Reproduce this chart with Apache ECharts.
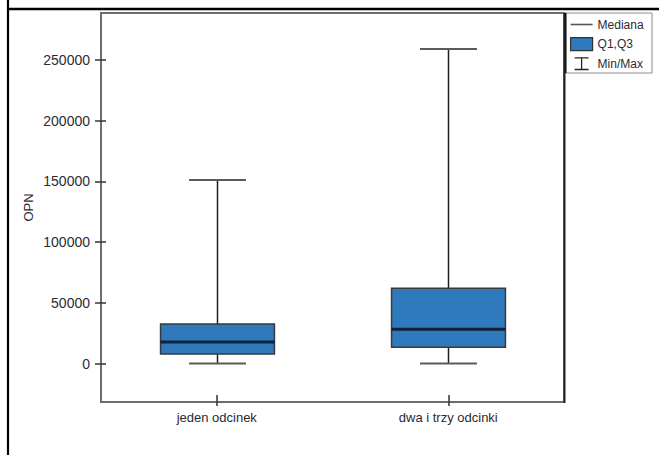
<!DOCTYPE html>
<html>
<head>
<meta charset="utf-8">
<script src="https://cdn.jsdelivr.net/npm/echarts@6/dist/echarts.min.js"></script>
<style>
html,body{margin:0;padding:0;background:#fff;}
#chart{width:659px;height:455px;}
</style>
</head>
<body>
<div id="chart"></div>
<script>
const categories = ['jeden odcinek', 'dwa i trzy odcinki'];
const minValues = [0, 0];
const q1Values = [7800, 13300];
const medianValues = [17700, 28200];
const q3Values = [32500, 61900];
const maxValues = [151200, 259100];
const yTicks = [0, 50000, 100000, 150000, 200000, 250000];
const yRange = [-31700, 288700];
const axisName = 'OPN';
const legendNames = ['Mediana', 'Q1,Q3', 'Min/Max'];

const rows = categories.map((c, i) => [i, minValues[i], q1Values[i], medianValues[i], q3Values[i], maxValues[i]]);

const FONT = 'Liberation Sans';
const TXT = '#2b2b33';
const BOX = '#2e7abc';

function pos(api, v) { return api.coord([api.value(0), v]); }

const chart = echarts.init(document.getElementById('chart'), null, {renderer: 'svg'});
chart.setOption({
  animation: false,
  backgroundColor: '#fff',
  grid: {left: 101, top: 13, right: 95, bottom: 53, show: true, borderColor: '#6d6d6d', borderWidth: 2, backgroundColor: 'transparent'},
  xAxis: [{
    type: 'category', data: categories, boundaryGap: true,
    axisLine: {show: true, onZero: false, lineStyle: {color: '#6d6d6d', width: 2}},
    axisTick: {show: true, alignWithLabel: true, inside: false, length: 4, lineStyle: {color: '#333', width: 1.5}},
    axisLabel: {margin: 9, color: TXT, fontFamily: FONT, fontSize: 13},
    splitLine: {show: false}
  }, {
    type: 'category', data: categories, boundaryGap: true, position: 'bottom',
    axisLine: {show: false, onZero: false},
    axisTick: {show: true, alignWithLabel: true, inside: true, length: 7, lineStyle: {color: '#333', width: 1.5}},
    axisLabel: {show: false}, splitLine: {show: false}
  }],
  yAxis: [{
    type: 'value', min: yRange[0], max: yRange[1],
    name: axisName, nameLocation: 'middle', nameGap: 66, nameMoveOverlap: false,
    nameTextStyle: {color: TXT, fontFamily: FONT, fontSize: 13},
    axisLine: {show: true, onZero: false, lineStyle: {color: '#6d6d6d', width: 2}},
    axisTick: {show: true, inside: false, length: 6, customValues: yTicks, lineStyle: {color: '#333', width: 1.5}},
    axisLabel: {margin: 11, color: TXT, fontFamily: FONT, fontSize: 14, customValues: yTicks, formatter: v => String(v)},
    splitLine: {show: false}
  }, {
    type: 'value', min: yRange[0], max: yRange[1], position: 'left',
    axisLine: {show: false, onZero: false},
    axisTick: {show: true, inside: true, length: 5, customValues: yTicks, lineStyle: {color: '#333', width: 1.5}},
    axisLabel: {show: false, customValues: yTicks},
    splitLine: {show: false}
  }],
  legend: {
    orient: 'vertical', left: 570, top: 18, z: 20, padding: 0,
    itemWidth: 22, itemHeight: 13, itemGap: 6, symbolKeepAspect: true,
    textStyle: {color: TXT, fontFamily: FONT, fontSize: 12, lineHeight: 13},
    selectedMode: false,
    data: [
      {name: legendNames[0], icon: 'path://M0,0 L22,0 L22,1.6 L0,1.6 Z', itemStyle: {color: '#555', borderWidth: 0}},
      {name: legendNames[1], icon: 'rect', itemStyle: {color: BOX, borderColor: '#333', borderWidth: 1.2}},
      {name: legendNames[2], icon: 'path://M0,0 L15,0 L15,1.5 L8.2,1.5 L8.2,12.5 L15,12.5 L15,14 L0,14 L0,12.5 L6.8,12.5 L6.8,1.5 L0,1.5 Z', itemStyle: {color: '#222', borderWidth: 0}}
    ]
  },
  graphic: [
    {type: 'rect', z: 5, shape: {x: 565, y: 13, width: 87, height: 60}, style: {fill: '#fff', stroke: '#8c8c8c', lineWidth: 1}},
    {type: 'line', z: 6, shape: {x1: 565.5, y1: 13, x2: 565.5, y2: 73}, style: {stroke: '#000', lineWidth: 2}},
    {type: 'line', z: 6, shape: {x1: 564.5, y1: 13, x2: 564.5, y2: 403}, style: {stroke: '#222', lineWidth: 2}},
    {type: 'line', z: 6, shape: {x1: 7, y1: 9, x2: 659, y2: 9}, style: {stroke: '#000', lineWidth: 2.5}},
    {type: 'line', z: 6, shape: {x1: 8, y1: 0, x2: 8, y2: 455}, style: {stroke: '#000', lineWidth: 2.2}}
  ],
  series: [
    {
      name: legendNames[2], type: 'custom', data: rows, z: 2,
      encode: {x: 0, y: [1, 2, 3, 4, 5]},
      itemStyle: {color: '#222'},
      renderItem: function (params, api) {
        const band = api.size([1, 0])[0];
        const cw = band * 0.123;
        const pMin = pos(api, api.value(1)), pQ1 = pos(api, api.value(2));
        const pQ3 = pos(api, api.value(4)), pMax = pos(api, api.value(5));
        const x = Math.round(pMin[0]) + 0.5;
        const ws = {stroke: '#1e1e1e', lineWidth: 1.5};
        const cs = {stroke: '#5a5a5a', lineWidth: 2};
        return {type: 'group', children: [
          {type: 'line', shape: {x1: x, y1: pMin[1], x2: x, y2: pQ1[1]}, style: ws},
          {type: 'line', shape: {x1: x, y1: pQ3[1], x2: x, y2: pMax[1]}, style: ws},
          {type: 'line', shape: {x1: x - cw, y1: pMin[1], x2: x + cw, y2: pMin[1]}, style: cs},
          {type: 'line', shape: {x1: x - cw, y1: pMax[1], x2: x + cw, y2: pMax[1]}, style: cs}
        ]};
      }
    },
    {
      name: legendNames[1], type: 'custom', data: rows, z: 3,
      encode: {x: 0, y: [1, 2, 3, 4, 5]},
      itemStyle: {color: BOX},
      renderItem: function (params, api) {
        const band = api.size([1, 0])[0];
        const hw = band * 0.246;
        const pQ1 = pos(api, api.value(2)), pQ3 = pos(api, api.value(4));
        const x = Math.round(pQ1[0]) + 0.5;
        return {type: 'rect', shape: {x: x - hw, y: pQ3[1], width: hw * 2, height: pQ1[1] - pQ3[1]},
          style: {fill: BOX, stroke: '#3a3a3a', lineWidth: 1.5}};
      }
    },
    {
      name: legendNames[0], type: 'custom', data: rows, z: 4,
      encode: {x: 0, y: [1, 2, 3, 4, 5]},
      itemStyle: {color: '#555'},
      renderItem: function (params, api) {
        const band = api.size([1, 0])[0];
        const hw = band * 0.246;
        const pMed = pos(api, api.value(3));
        const x = Math.round(pMed[0]) + 0.5;
        return {type: 'line', shape: {x1: x - hw, y1: pMed[1], x2: x + hw, y2: pMed[1]},
          style: {stroke: '#10233a', lineWidth: 3}};
      }
    }
  ]
});
</script>
</body>
</html>
